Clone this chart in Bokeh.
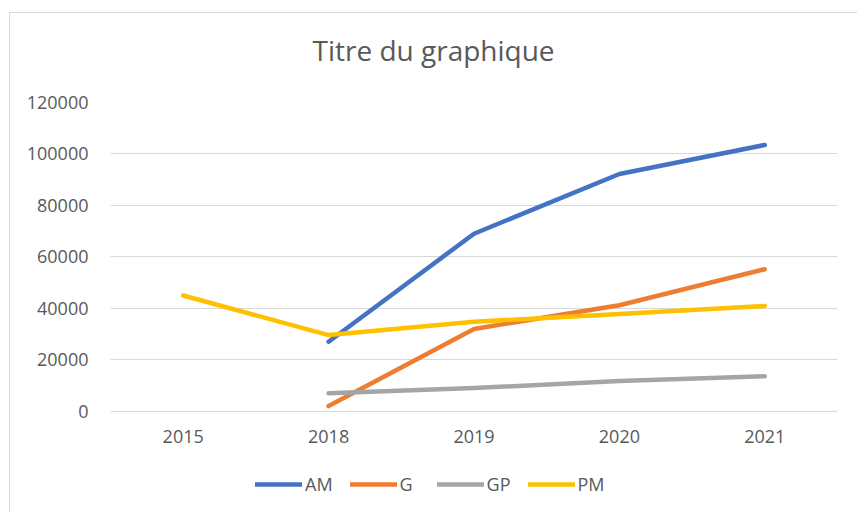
from bokeh.plotting import figure
from bokeh.models import (ColumnDataSource, FactorRange, Range1d, Legend, LegendItem,
                          Title, NumeralTickFormatter, FixedTicker)
from bokeh.embed import file_html
from bokeh.resources import INLINE

nan = float("nan")
years = ["2015", "2018", "2019", "2020", "2021"]
am = [nan, 27000, 69000, 92200, 103500]
g = [nan, 2000, 32000, 41200, 55200]
gp = [nan, 7000, 9000, 11800, 13600]
pm = [45000, 29600, 34800, 37800, 40900]
series = [("AM", am, "#4472C4"), ("G", g, "#ED7D31"), ("GP", gp, "#A5A5A5"), ("PM", pm, "#FFC000")]
y_ticks = [0, 20000, 40000, 60000, 80000, 100000, 120000]

FONT = "Open Sans"
TXT = "#595959"

# frame spans from the top gridline down to the figure bottom; the space below 0
# holds the category labels and the legend (308 px <-> 120000)
y_bottom = -120000 * 102 / 308

p = figure(width=848, height=500, x_range=FactorRange(*years), y_range=Range1d(y_bottom, 120000),
           output_backend="svg", toolbar_location=None, margin=(12, 0, 0, 9),
           min_border_left=100, min_border_right=21, min_border_top=89, min_border_bottom=0,
           styles={"border-top": "1px solid #d9d9d9", "border-left": "1px solid #d9d9d9"})
p.outline_line_color = None
p.background_fill_color = "white"
p.border_fill_color = "white"

src = ColumnDataSource(dict(x=years, AM=am, G=g, GP=gp, PM=pm))
items = []
for name, vals, col in series:
    r = p.line("x", name, source=src, line_color=col, line_width=4.5, line_cap="round", line_join="round")
    items.append(LegendItem(label=name, renderers=[r]))

p.xgrid.grid_line_color = None
p.ygrid.grid_line_color = "#d9d9d9"
p.ygrid.grid_line_width = 1

p.yaxis.ticker = FixedTicker(ticks=y_ticks)
p.yaxis.formatter = NumeralTickFormatter(format="0")
p.xaxis.fixed_location = 0
for ax in (p.xaxis[0], p.yaxis[0]):
    ax.axis_line_color = None
    ax.major_tick_line_color = None
    ax.minor_tick_line_color = None
    ax.major_label_text_font = FONT
    ax.major_label_text_font_size = "18px"
    ax.major_label_text_color = TXT
p.yaxis.major_label_standoff = 16
p.xaxis.major_label_standoff = 13

p.title = Title(text="Titre du graphique", align="left", offset=202,
                text_font=FONT, text_font_size="28px", text_color=TXT, text_font_style="normal")
p.add_layout(Title(text=" ", text_font_size="16px"), "above")

legend = Legend(items=items, orientation="horizontal", location=(145, 17),
                label_text_font=FONT, label_text_font_size="18px", label_text_color=TXT,
                glyph_width=47, glyph_height=16, label_standoff=3, spacing=17,
                padding=0, margin=0, border_line_color=None, background_fill_alpha=0,
                label_height=16)
p.add_layout(legend, "center")

open("out.html", "w").write(file_html(p, INLINE))
